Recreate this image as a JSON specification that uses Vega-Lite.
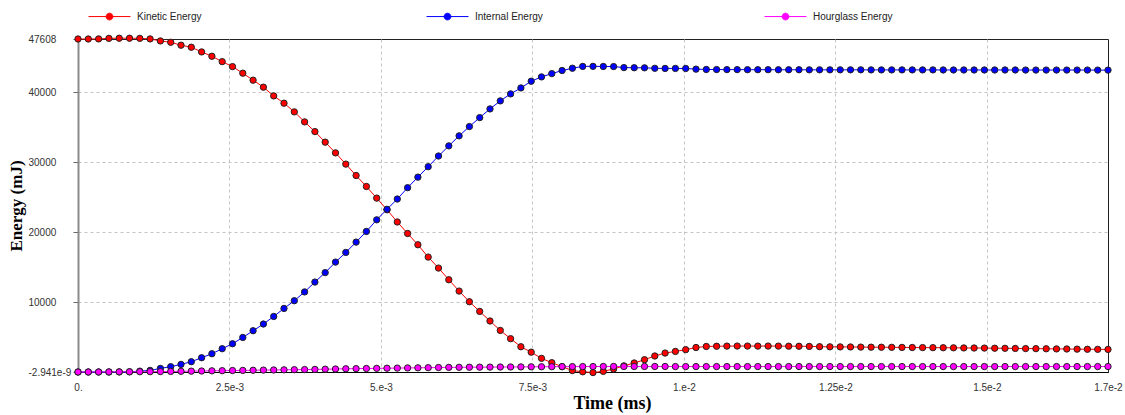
{
  "$schema": "https://vega.github.io/schema/vega-lite/v6.json",
  "width": 1030,
  "height": 333,
  "autosize": "none",
  "padding": {"left": 78, "top": 39, "right": 17, "bottom": 43},
  "background": "white",
  "config": {
    "view": {"stroke": "#222", "strokeWidth": 1},
    "axis": {
      "labelFont": "Liberation Sans",
      "labelFontSize": 10,
      "labelColor": "#333",
      "titleFont": "Liberation Serif",
      "titleFontWeight": "bold",
      "titleColor": "#000",
      "grid": true,
      "gridDash": [3, 3],
      "gridWidth": 1,
      "labelOverlap": false,
      "labelFlush": false,
      "labelBound": false
    }
  },
  "datasets": {
    "kinetic": [
      {"t":0,"e":47608},{"t":0.00017,"e":47608},{"t":0.00034,"e":47620},{"t":0.00051,"e":47700},{"t":0.00068,"e":47720},
      {"t":0.00085,"e":47720},{"t":0.00102,"e":47700},{"t":0.00119,"e":47620},{"t":0.00136,"e":47330},{"t":0.00153,"e":47140},
      {"t":0.0017,"e":46720},{"t":0.00187,"e":46430},{"t":0.00204,"e":45760},{"t":0.00221,"e":45140},{"t":0.00238,"e":44370},
      {"t":0.00255,"e":43660},{"t":0.00272,"e":42720},{"t":0.00289,"e":41720},{"t":0.00306,"e":40720},{"t":0.00323,"e":39470},
      {"t":0.0034,"e":38430},{"t":0.00357,"e":37190},{"t":0.00374,"e":35760},{"t":0.00391,"e":34370},{"t":0.00408,"e":32860},
      {"t":0.00425,"e":31330},{"t":0.00442,"e":29720},{"t":0.00459,"e":28090},{"t":0.00476,"e":26520},{"t":0.00493,"e":24860},
      {"t":0.0051,"e":23190},{"t":0.00527,"e":21450},{"t":0.00544,"e":19800},{"t":0.00561,"e":18190},{"t":0.00578,"e":16430},
      {"t":0.00595,"e":14860},{"t":0.00612,"e":13190},{"t":0.00629,"e":11570},{"t":0.00646,"e":10040},{"t":0.00663,"e":8660},
      {"t":0.0068,"e":7290},{"t":0.00697,"e":5940},{"t":0.00714,"e":4760},{"t":0.00731,"e":3610},{"t":0.00748,"e":2830},
      {"t":0.00765,"e":1950},{"t":0.00782,"e":1330},{"t":0.00799,"e":760},{"t":0.00816,"e":210},{"t":0.00833,"e":30},
      {"t":0.0085,"e":-80},{"t":0.00867,"e":90},{"t":0.00884,"e":430},{"t":0.00901,"e":880},{"t":0.00918,"e":1290},
      {"t":0.00935,"e":1760},{"t":0.00952,"e":2290},{"t":0.00969,"e":2710},{"t":0.00986,"e":2940},{"t":0.01003,"e":3190},
      {"t":0.0102,"e":3500},{"t":0.01037,"e":3650},{"t":0.01054,"e":3680},{"t":0.01071,"e":3700},{"t":0.01088,"e":3710},
      {"t":0.01105,"e":3710},{"t":0.01122,"e":3700},{"t":0.01139,"e":3710},{"t":0.01156,"e":3700},{"t":0.01173,"e":3690},
      {"t":0.0119,"e":3680},{"t":0.01207,"e":3660},{"t":0.01224,"e":3620},{"t":0.01241,"e":3600},{"t":0.01258,"e":3590},
      {"t":0.01275,"e":3580},{"t":0.01292,"e":3560},{"t":0.01309,"e":3550},{"t":0.01326,"e":3540},{"t":0.01343,"e":3530},
      {"t":0.0136,"e":3520},{"t":0.01377,"e":3500},{"t":0.01394,"e":3490},{"t":0.01411,"e":3480},{"t":0.01428,"e":3470},
      {"t":0.01445,"e":3460},{"t":0.01462,"e":3440},{"t":0.01479,"e":3430},{"t":0.01496,"e":3420},{"t":0.01513,"e":3400},
      {"t":0.0153,"e":3390},{"t":0.01547,"e":3370},{"t":0.01564,"e":3350},{"t":0.01581,"e":3340},{"t":0.01598,"e":3320},
      {"t":0.01615,"e":3300},{"t":0.01632,"e":3290},{"t":0.01649,"e":3270},{"t":0.01666,"e":3250},{"t":0.01683,"e":3240},
      {"t":0.017,"e":3230}
    ],
    "internal": [
      {"t":0,"e":0},{"t":0.00017,"e":0},{"t":0.00034,"e":0},{"t":0.00051,"e":0},{"t":0.00068,"e":10},
      {"t":0.00085,"e":30},{"t":0.00102,"e":120},{"t":0.00119,"e":230},{"t":0.00136,"e":510},{"t":0.00153,"e":760},
      {"t":0.0017,"e":1090},{"t":0.00187,"e":1470},{"t":0.00204,"e":2040},{"t":0.00221,"e":2610},{"t":0.00238,"e":3330},
      {"t":0.00255,"e":4040},{"t":0.00272,"e":4940},{"t":0.00289,"e":5900},{"t":0.00306,"e":6860},{"t":0.00323,"e":7940},
      {"t":0.0034,"e":9090},{"t":0.00357,"e":10190},{"t":0.00374,"e":11450},{"t":0.00391,"e":12860},{"t":0.00408,"e":14210},
      {"t":0.00425,"e":15710},{"t":0.00442,"e":17090},{"t":0.00459,"e":18570},{"t":0.00476,"e":20090},{"t":0.00493,"e":21760},
      {"t":0.0051,"e":23260},{"t":0.00527,"e":24730},{"t":0.00544,"e":26350},{"t":0.00561,"e":27860},{"t":0.00578,"e":29350},
      {"t":0.00595,"e":30880},{"t":0.00612,"e":32330},{"t":0.00629,"e":33760},{"t":0.00646,"e":35090},{"t":0.00663,"e":36370},
      {"t":0.0068,"e":37610},{"t":0.00697,"e":38760},{"t":0.00714,"e":39760},{"t":0.00731,"e":40610},{"t":0.00748,"e":41570},
      {"t":0.00765,"e":42190},{"t":0.00782,"e":42660},{"t":0.00799,"e":43100},{"t":0.00816,"e":43430},{"t":0.00833,"e":43690},
      {"t":0.0085,"e":43700},{"t":0.00867,"e":43680},{"t":0.00884,"e":43670},{"t":0.00901,"e":43520},{"t":0.00918,"e":43500},
      {"t":0.00935,"e":43490},{"t":0.00952,"e":43420},{"t":0.00969,"e":43400},{"t":0.00986,"e":43400},{"t":0.01003,"e":43390},
      {"t":0.0102,"e":43300},{"t":0.01037,"e":43250},{"t":0.01054,"e":43240},{"t":0.01071,"e":43230},{"t":0.01088,"e":43230},
      {"t":0.01105,"e":43220},{"t":0.01122,"e":43220},{"t":0.01139,"e":43220},{"t":0.01156,"e":43210},{"t":0.01173,"e":43210},
      {"t":0.0119,"e":43210},{"t":0.01207,"e":43200},{"t":0.01224,"e":43200},{"t":0.01241,"e":43200},{"t":0.01258,"e":43200},
      {"t":0.01275,"e":43200},{"t":0.01292,"e":43200},{"t":0.01309,"e":43190},{"t":0.01326,"e":43190},{"t":0.01343,"e":43190},
      {"t":0.0136,"e":43190},{"t":0.01377,"e":43190},{"t":0.01394,"e":43190},{"t":0.01411,"e":43190},{"t":0.01428,"e":43180},
      {"t":0.01445,"e":43180},{"t":0.01462,"e":43180},{"t":0.01479,"e":43180},{"t":0.01496,"e":43180},{"t":0.01513,"e":43180},
      {"t":0.0153,"e":43180},{"t":0.01547,"e":43180},{"t":0.01564,"e":43170},{"t":0.01581,"e":43170},{"t":0.01598,"e":43170},
      {"t":0.01615,"e":43170},{"t":0.01632,"e":43170},{"t":0.01649,"e":43170},{"t":0.01666,"e":43170},{"t":0.01683,"e":43160},
      {"t":0.017,"e":43160}
    ],
    "hourglass": [
      {"t":0,"e":0},{"t":0.00017,"e":0},{"t":0.00034,"e":5},{"t":0.00051,"e":10},{"t":0.00068,"e":20},
      {"t":0.00085,"e":30},{"t":0.00102,"e":40},{"t":0.00119,"e":50},{"t":0.00136,"e":60},{"t":0.00153,"e":80},
      {"t":0.0017,"e":100},{"t":0.00187,"e":120},{"t":0.00204,"e":140},{"t":0.00221,"e":170},{"t":0.00238,"e":190},
      {"t":0.00255,"e":210},{"t":0.00272,"e":230},{"t":0.00289,"e":250},{"t":0.00306,"e":270},{"t":0.00323,"e":290},
      {"t":0.0034,"e":310},{"t":0.00357,"e":330},{"t":0.00374,"e":350},{"t":0.00391,"e":370},{"t":0.00408,"e":400},
      {"t":0.00425,"e":430},{"t":0.00442,"e":460},{"t":0.00459,"e":480},{"t":0.00476,"e":500},{"t":0.00493,"e":520},
      {"t":0.0051,"e":540},{"t":0.00527,"e":560},{"t":0.00544,"e":580},{"t":0.00561,"e":600},{"t":0.00578,"e":620},
      {"t":0.00595,"e":640},{"t":0.00612,"e":660},{"t":0.00629,"e":670},{"t":0.00646,"e":680},{"t":0.00663,"e":690},
      {"t":0.0068,"e":700},{"t":0.00697,"e":710},{"t":0.00714,"e":720},{"t":0.00731,"e":730},{"t":0.00748,"e":740},
      {"t":0.00765,"e":750},{"t":0.00782,"e":760},{"t":0.00799,"e":770},{"t":0.00816,"e":770},{"t":0.00833,"e":780},
      {"t":0.0085,"e":780},{"t":0.00867,"e":790},{"t":0.00884,"e":790},{"t":0.00901,"e":790},{"t":0.00918,"e":790},
      {"t":0.00935,"e":790},{"t":0.00952,"e":790},{"t":0.00969,"e":790},{"t":0.00986,"e":780},{"t":0.01003,"e":780},
      {"t":0.0102,"e":780},{"t":0.01037,"e":780},{"t":0.01054,"e":780},{"t":0.01071,"e":780},{"t":0.01088,"e":780},
      {"t":0.01105,"e":780},{"t":0.01122,"e":780},{"t":0.01139,"e":780},{"t":0.01156,"e":780},{"t":0.01173,"e":780},
      {"t":0.0119,"e":780},{"t":0.01207,"e":780},{"t":0.01224,"e":780},{"t":0.01241,"e":780},{"t":0.01258,"e":780},
      {"t":0.01275,"e":780},{"t":0.01292,"e":780},{"t":0.01309,"e":780},{"t":0.01326,"e":780},{"t":0.01343,"e":780},
      {"t":0.0136,"e":780},{"t":0.01377,"e":780},{"t":0.01394,"e":780},{"t":0.01411,"e":780},{"t":0.01428,"e":780},
      {"t":0.01445,"e":780},{"t":0.01462,"e":780},{"t":0.01479,"e":780},{"t":0.01496,"e":780},{"t":0.01513,"e":780},
      {"t":0.0153,"e":780},{"t":0.01547,"e":780},{"t":0.01564,"e":780},{"t":0.01581,"e":780},{"t":0.01598,"e":780},
      {"t":0.01615,"e":780},{"t":0.01632,"e":780},{"t":0.01649,"e":780},{"t":0.01666,"e":780},{"t":0.01683,"e":780},
      {"t":0.017,"e":780}
    ]
  },
  "encoding": {
    "x": {
      "field": "t",
      "type": "quantitative",
      "title": "Time (ms)",
      "scale": {"domain": [0, 0.017], "nice": false, "zero": false},
      "axis": {
        "values": [0, 0.0025, 0.005, 0.0075, 0.01, 0.0125, 0.015, 0.017],
        "labelExpr": "['0.','2.5e-3','5.e-3','7.5e-3','1.e-2','1.25e-2','1.5e-2','1.7e-2'][round(datum.value/0.0025)]",
        "gridColor": {"condition": {"test": "datum.value <= 0 || datum.value >= 0.017", "value": "transparent"}, "value": "#c4c4c4"},
        "ticks": false,
        "tickSize": 0,
        "labelPadding": 10,
        "domainColor": "#000",
        "domainWidth": 1,
        "titleFontSize": 18,
        "titlePadding": 2,
        "titleX": 534
      }
    },
    "y": {
      "field": "e",
      "type": "quantitative",
      "title": "Energy (mJ)",
      "scale": {"domain": [-2.941e-9, 47608], "nice": false, "zero": false},
      "axis": {
        "values": [-2.941e-9, 10000, 20000, 30000, 40000, 47608],
        "labelExpr": "datum.value < 1 ? '-2.941e-9' : format(datum.value, 'd')",
        "gridColor": {"condition": {"test": "datum.value < 1 || datum.value >= 47608", "value": "transparent"}, "value": "#c4c4c4"},
        "labelAlign": "left",
        "labelPadding": 45,
        "tickSize": 5,
        "tickColor": "#666",
        "domainColor": "#8a8a8a",
        "domainWidth": 2,
        "titleFontSize": 17,
        "titlePadding": 3
      }
    }
  },
  "layer": [
    {
      "data": {"name": "kinetic"},
      "layer": [
        {
          "mark": {"type": "line", "strokeWidth": 1},
          "encoding": {
            "color": {
              "datum": "Kinetic Energy",
              "type": "nominal",
              "scale": {
                "domain": ["Kinetic Energy", "Internal Energy", "Hourglass Energy"],
                "range": ["#ff0000", "#0000ff", "#ff00ff"]
              },
              "legend": {
                "orient": "none",
                "legendX": 10,
                "legendY": -44,
                "direction": "horizontal",
                "columns": 3,
                "gridAlign": "all",
                "columnPadding": 207,
                "title": null,
                "padding": 0,
                "symbolType": "M-1,0L1,0M0.16,0A0.16,0.16,0,1,1,-0.16,0A0.16,0.16,0,1,1,0.16,0Z",
                "symbolSize": 1764,
                "symbolStrokeWidth": 1,
                "labelFont": "Liberation Sans",
                "labelFontSize": 10,
                "labelColor": "#222",
                "labelOffset": 6,
                "encode": {
                  "symbols": {
                    "update": {
                      "fill": {"scale": "color", "field": "value"},
                      "stroke": {"scale": "color", "field": "value"},
                      "opacity": {"value": 1}
                    }
                  }
                }
              }
            }
          }
        },
        {
          "mark": {"type": "point", "filled": true, "size": 40, "stroke": "#222", "strokeWidth": 1, "opacity": 1},
          "encoding": {"color": {"datum": "Kinetic Energy", "type": "nominal"}}
        }
      ]
    },
    {
      "data": {"name": "internal"},
      "layer": [
        {
          "mark": {"type": "line", "strokeWidth": 1},
          "encoding": {"color": {"datum": "Internal Energy", "type": "nominal"}}
        },
        {
          "mark": {"type": "point", "filled": true, "size": 40, "stroke": "#222", "strokeWidth": 1, "opacity": 1},
          "encoding": {"color": {"datum": "Internal Energy", "type": "nominal"}}
        }
      ]
    },
    {
      "data": {"name": "hourglass"},
      "layer": [
        {
          "mark": {"type": "line", "strokeWidth": 1},
          "encoding": {"color": {"datum": "Hourglass Energy", "type": "nominal"}}
        },
        {
          "mark": {"type": "point", "filled": true, "size": 40, "stroke": "#222", "strokeWidth": 1, "opacity": 1},
          "encoding": {"color": {"datum": "Hourglass Energy", "type": "nominal"}}
        }
      ]
    }
  ]
}
